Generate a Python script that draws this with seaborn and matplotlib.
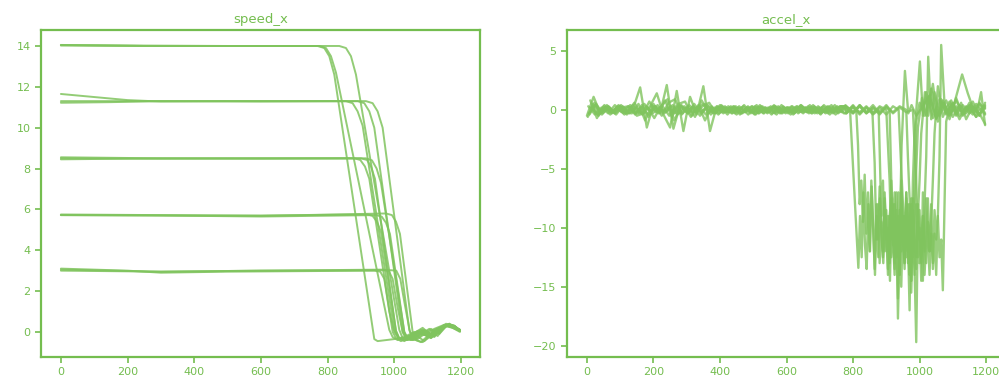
import matplotlib
matplotlib.use("Agg")
import matplotlib.pyplot as plt
import seaborn as sns
import pandas as pd

# speed_x runs (time index, speed)
s1_t = [0, 250, 500, 770, 790, 805, 820, 940, 950, 975, 1000, 1030, 1060, 1090, 1120, 1150, 1175, 1197]
s1_v = [14.05, 14.0, 14.0, 14.0, 13.9, 13.5, 12.6, -0.35, -0.45, -0.4, -0.35, -0.25, 0.0, -0.15, 0.15, 0.35, 0.25, 0.05]
s2_t = [0, 250, 500, 775, 795, 810, 825, 985, 995, 1010, 1030, 1060, 1090, 1120, 1150, 1175, 1197]
s2_v = [14.02, 14.0, 14.0, 14.0, 13.9, 13.5, 12.7, 0.1, -0.25, -0.4, -0.3, -0.1, -0.45, 0.1, 0.3, 0.2, 0.0]
s3_t = [0, 250, 500, 835, 855, 870, 885, 1015, 1025, 1040, 1060, 1085, 1110, 1130, 1155, 1180, 1197]
s3_v = [14.05, 14.02, 14.0, 14.0, 13.9, 13.5, 12.6, 0.1, -0.3, -0.4, -0.2, 0.1, -0.3, 0.0, 0.4, 0.3, 0.1]
s4_t = [0, 100, 200, 300, 500, 855, 875, 890, 905, 1000, 1012, 1030, 1055, 1080, 1110, 1140, 1160, 1197]
s4_v = [11.65, 11.5, 11.35, 11.28, 11.3, 11.3, 11.2, 10.8, 10.1, 0.1, -0.3, -0.45, -0.2, 0.1, -0.1, 0.2, 0.35, 0.1]
s5_t = [0, 150, 300, 500, 890, 910, 925, 940, 1025, 1035, 1050, 1070, 1095, 1120, 1150, 1175, 1197]
s5_v = [11.22, 11.25, 11.3, 11.3, 11.3, 11.2, 10.8, 10.0, 0.0, -0.35, -0.4, -0.15, 0.05, -0.2, 0.3, 0.25, 0.05]
s6_t = [0, 300, 600, 915, 935, 950, 965, 1045, 1055, 1070, 1090, 1110, 1135, 1160, 1180, 1197]
s6_v = [11.3, 11.3, 11.28, 11.3, 11.2, 10.8, 10.0, 0.1, -0.3, -0.35, -0.1, 0.15, -0.1, 0.35, 0.3, 0.05]
s7_t = [0, 300, 600, 880, 898, 912, 925, 995, 1005, 1020, 1045, 1070, 1100, 1130, 1160, 1197]
s7_v = [8.5, 8.48, 8.5, 8.5, 8.42, 8.1, 7.5, 0.0, -0.3, -0.45, -0.25, 0.05, -0.2, 0.1, 0.3, 0.05]
s8_t = [0, 300, 600, 900, 918, 930, 942, 1005, 1015, 1035, 1060, 1085, 1110, 1140, 1165, 1197]
s8_v = [8.55, 8.5, 8.5, 8.5, 8.42, 8.1, 7.5, 0.05, -0.35, -0.3, -0.05, 0.2, -0.15, 0.15, 0.4, 0.1]
s9_t = [0, 300, 600, 915, 933, 947, 960, 1030, 1040, 1055, 1080, 1105, 1130, 1155, 1180, 1197]
s9_v = [8.45, 8.5, 8.48, 8.5, 8.4, 8.0, 7.3, 0.0, -0.3, -0.4, -0.1, 0.15, -0.2, 0.35, 0.3, 0.05]
s10_t = [0, 300, 600, 920, 935, 948, 960, 1005, 1015, 1035, 1060, 1090, 1120, 1150, 1175, 1197]
s10_v = [5.75, 5.72, 5.7, 5.75, 5.68, 5.4, 4.9, 0.05, -0.3, -0.4, -0.15, 0.1, -0.25, 0.3, 0.3, 0.05]
s11_t = [0, 300, 600, 945, 962, 975, 987, 1030, 1040, 1060, 1085, 1110, 1135, 1160, 1197]
s11_v = [5.72, 5.7, 5.65, 5.72, 5.65, 5.35, 4.8, 0.0, -0.35, -0.3, 0.0, -0.2, 0.1, 0.35, 0.1]
s12_t = [0, 300, 600, 975, 993, 1005, 1017, 1055, 1065, 1080, 1100, 1125, 1150, 1175, 1197]
s12_v = [5.72, 5.7, 5.68, 5.8, 5.72, 5.4, 4.8, 0.0, -0.4, -0.5, -0.2, 0.05, 0.35, 0.3, 0.05]
s13_t = [0, 200, 300, 500, 940, 958, 970, 985, 1000, 1015, 1040, 1070, 1100, 1130, 1160, 1197]
s13_v = [3.1, 3.0, 2.9, 2.95, 3.0, 2.95, 2.6, 1.0, 0.0, -0.35, -0.25, 0.0, -0.2, 0.15, 0.35, 0.05]
s14_t = [0, 300, 600, 965, 983, 995, 1010, 1025, 1040, 1060, 1085, 1110, 1140, 1165, 1197]
s14_v = [3.05, 2.95, 3.0, 3.05, 3.0, 2.6, 1.2, 0.0, -0.35, -0.4, -0.1, -0.3, 0.1, 0.4, 0.1]
s15_t = [0, 300, 600, 990, 1006, 1018, 1032, 1047, 1065, 1085, 1110, 1135, 1160, 1180, 1197]
s15_v = [3.0, 2.95, 3.0, 3.02, 3.0, 2.6, 1.3, 0.0, -0.4, -0.5, -0.2, 0.0, 0.35, 0.3, 0.05]

# accel_x runs: noisy start sampled every 20 steps (each run shifted a little), then each run's own tail
base_t = list(range(0, 780, 20))
base_shift = [0, 10, 5, 15, 2.5, 12.5, 7.5, 17.5, 4]
a1_base = [-0.5, 1.1, -0.3, 0.4, -0.2, 0.3, -0.4, 0.2, 1.9, -1.5, 0.5, -0.3, 2.1, -1.6, 0.4, -0.2,
           0.3, -0.5, 0.2, -0.3, 0.4, -0.2, 0.3, -0.4, 0.2, -0.3, 0.4, -0.2, 0.3, -0.3, 0.2, -0.4,
           0.3, -0.2, 0.4, -0.3, 0.2, -0.3, 0.3]
a2_base = [0.8, -0.7, 0.3, -0.4, 0.2, -0.3, 0.4, -0.5, -0.3, 0.3, 1.4, -0.4, -1.5, 1.6, -1.8, 1.1,
           -0.4, 2.0, -1.8, 0.3, -0.3, 0.2, -0.4, 0.3, -0.2, 0.4, -0.3, 0.2, -0.4, 0.3, -0.2, 0.3,
           -0.3, 0.4, -0.2, 0.3, -0.4, 0.2, -0.2]
a3_base = [-0.3, 0.4, -0.4, 0.3, -0.3, 0.2, 0.3, -0.4, 0.4, -0.6, 0.3, -0.5, 0.6, 0.9, -0.4, 0.3,
           -0.6, 0.8, -0.3, 0.2, -0.2, 0.3, -0.3, 0.2, -0.4, 0.3, -0.2, 0.2, -0.3, 0.4, -0.3, 0.2,
           -0.2, 0.3, -0.3, 0.2, -0.3, 0.4, -0.2]
a4_base = [0.3, -0.5, 0.2, -0.3, 0.4, -0.2, -0.3, 0.5, -0.9, 0.4, -0.3, 0.8, -0.6, 0.5, 0.7, -0.5,
           0.4, -0.9, 0.3, -0.4, 0.3, -0.3, 0.2, -0.2, 0.3, -0.3, 0.2, -0.4, 0.3, -0.2, 0.3, -0.3,
           0.2, -0.3, 0.3, -0.2, 0.4, -0.3, 0.2]
a5_base = [-0.6, 0.6, -0.2, 0.3, -0.3, 0.4, -0.2, 0.6, -0.3, 0.2, -0.7, 0.3, 0.9, -0.9, 0.3, -0.3,
           0.5, -0.3, 0.4, -0.2, 0.2, -0.4, 0.3, -0.3, 0.2, -0.2, 0.3, -0.3, 0.4, -0.2, 0.2, -0.3,
           0.4, -0.2, 0.2, -0.4, 0.3, -0.2, 0.3]
a6_base = [0.2, -0.4, 0.4, -0.2, 0.3, -0.4, 0.2, -0.3, 0.5, -0.2, 0.4, -0.3, 0.3, -0.4, 0.3, -0.6,
           0.2, 0.5, -0.4, 0.3, -0.2, 0.3, -0.2, 0.4, -0.3, 0.2, -0.3, 0.3, -0.2, 0.2, -0.4, 0.3,
           -0.2, 0.2, -0.3, 0.4, -0.2, 0.3, -0.3]
a7_base = [-0.4, 0.5, -0.3, 0.2, -0.4, 0.3, -0.3, 0.2, -0.4, 0.7, -0.2, 0.3, -0.5, 0.3, -0.3, 0.4,
           -0.2, 0.3, 0.6, -0.3, 0.3, -0.2, 0.3, -0.3, 0.2, -0.4, 0.3, -0.2, 0.3, -0.3, 0.2, -0.2,
           0.3, -0.3, 0.2, -0.2, 0.3, -0.4, 0.2]
a8_base = [0.5, -0.3, 0.2, -0.2, 0.3, -0.3, 0.4, -0.3, 0.3, -0.3, 0.2, -0.2, 0.4, -0.3, 0.2, -0.2,
           0.3, -0.4, 0.2, -0.3, 0.2, -0.3, 0.3, -0.2, 0.3, -0.3, 0.2, -0.3, 0.2, -0.3, 0.3, -0.2,
           0.2, -0.3, 0.2, -0.3, 0.2, -0.2, 0.4]
a9_base = [0.3, -0.4, 0.2, -0.3, 0.4, -0.2, 0.3, -0.3, 0.2, -0.4, 0.3, -0.2, 0.2, -0.3, 0.4, -0.3,
           0.2, -0.2, 0.3, -0.3, 0.4, -0.2, 0.2, -0.3, 0.3, -0.4, 0.2, -0.2, 0.3, -0.3, 0.2, -0.3,
           0.4, -0.2, 0.3, -0.3, 0.2, -0.2, 0.3]

a1_t = [780, 791] + list(range(816, 947, 5)) + [956, 966, 976, 990, 1010, 1030, 1050, 1070, 1090, 1110, 1130, 1150, 1170, 1197]
a1_v = [0.2, 0.0,
        -13.4, -9.0, -12.5, -7.0, -11.5, -13.5, -8.0, -12.0, -6.5, -10.5, -14.0, -9.0, -12.5, -7.5,
        -11.0, -13.0, -8.5, -12.0, -10.0, -14.5, -8.0, -11.5, -9.5, -12.5, -7.0, -10.0, -3.0,
        3.3, -0.3, 0.4, -0.5, 0.3, 1.2, -0.8, 0.6, -0.4, 0.3, -0.2, 0.4, -0.6, 0.2]
a2_t = [780, 800, 810] + list(range(815, 986, 5)) + [1001, 1010, 1020, 1040, 1060, 1080, 1100, 1120, 1140, 1160, 1180, 1197]
a2_v = [-0.3, 0.3, -0.2,
        -3.0, -8.0, -6.0, -9.5, -5.5, -10.5, -7.0, -12.0, -6.0, -9.5, -13.5, -8.0, -11.0, -6.5,
        -10.0, -12.5, -7.5, -11.0, -9.0, -13.0, -6.0, -10.5, -8.0, -12.0, -9.5, -14.0, -7.0, -11.5,
        -9.0, -12.5, -8.0, -10.5, -13.0, -6.0, -2.0,
        4.1, -0.5, 1.5, -0.7, 0.9, -0.4, 0.5, -0.8, 0.3, -0.2, 0.6, -0.3]
a3_t = [780, 800, 820, 840, 858] + list(range(865, 1006, 5)) + [1016, 1026, 1040, 1055, 1070, 1090, 1105, 1128, 1145, 1160, 1180, 1197]
a3_v = [0.2, -0.3, 0.4, -0.2, 0.0,
        -4.5, -11.0, -8.0, -13.0, -9.5, -12.0, -7.0, -10.5, -14.0, -9.0, -12.5, -10.0, -13.5, -8.5,
        -17.7, -11.5, -15.0, -9.0, -12.0, -7.5, -13.0, -10.0, -14.5, -8.5, -11.0, -12.5, -9.0, -6.0, -2.0,
        1.5, -0.5, 2.2, -1.0, 0.8, -0.5, 0.6, 3.0, 1.4, 0.2, -0.3, -1.2]
a4_t = [780, 800, 820, 840, 860, 877] + list(range(885, 996, 5)) + [1007, 1020, 1035, 1050, 1065, 1080, 1100, 1120, 1140, 1160, 1180, 1197]
a4_v = [-0.2, 0.4, -0.3, 0.2, -0.4, 0.0,
        -9.0, -6.0, -12.0, -8.5, -13.5, -9.0, -7.5, -11.0, -14.0, -10.0, -16.0, -8.5, -12.0, -10.0,
        -13.5, -7.0, -11.0, -17.0, -8.0, -12.5, -9.5, -5.0, -1.5,
        1.0, -0.5, 1.8, -0.6, 0.9, -0.3, 0.6, -0.5, 0.2, -0.4, 0.5, 0.1]
a5_t = [780, 800, 820, 840, 860, 880, 900, 910] + list(range(915, 1021, 5)) + [1026, 1035, 1045, 1060, 1080, 1100, 1120, 1140, 1160, 1180, 1197]
a5_v = [0.3, -0.2, 0.4, -0.3, 0.2, -0.4, 0.3, 0.0,
        -6.0, -10.0, -7.0, -12.5, -9.0, -14.0, -8.0, -11.0, -13.0, -9.5, -12.0, -8.0, -15.5, -10.0,
        -13.5, -19.7, -9.5, -13.0, -11.0, -14.5, -8.0, -4.0,
        4.5, -0.8, 1.5, -0.5, 0.8, -0.6, 0.4, -0.3, 0.7, -0.5, 0.6]
a6_t = [780, 800, 820, 840, 860, 880, 900, 920, 937] + list(range(945, 1061, 5)) + [1065, 1075, 1090, 1110, 1130, 1150, 1170, 1185, 1197]
a6_v = [-0.3, 0.2, -0.2, 0.3, -0.3, 0.2, -0.4, 0.3, 0.0,
        -5.0, -8.0, -11.5, -7.0, -12.0, -9.0, -14.5, -7.5, -11.0, -13.5, -8.0, -10.0, -12.5, -9.0,
        -14.0, -11.0, -7.5, -12.0, -10.5, -13.0, -8.5, -11.0, -9.0, -4.0,
        5.5, 0.5, -0.8, 1.0, -0.5, 0.3, -0.6, 1.5, -1.3]
a7_t = [780, 800, 820, 840, 860, 880, 900, 920, 940, 960] + list(range(965, 1066, 5)) + [1070, 1080, 1095, 1110, 1125, 1140, 1160, 1180, 1197]
a7_v = [0.2, -0.3, 0.3, -0.2, 0.4, -0.3, 0.2, -0.2, 0.3, 0.0,
        -4.0, -7.5, -12.0, -9.0, -14.0, -8.0, -12.5, -10.0, -14.5, -7.0, -11.0, -13.0, -9.5, -12.0,
        -8.0, -13.5, -10.5, -14.0, -9.0, -12.5, -11.0,
        -15.3, -1.0, 0.8, -0.4, 0.6, -0.8, 0.3, -0.5, 0.4]
a8_t = [780, 800, 820, 840, 860, 880, 900] + list(range(905, 991, 5)) + [1000, 1015, 1030, 1050, 1070, 1090, 1110, 1130, 1150, 1170, 1197]
a8_v = [-0.2, 0.3, -0.4, 0.2, -0.3, 0.3, 0.0,
        -3.0, -6.0, -11.0, -8.0, -13.0, -7.0, -10.5, -12.0, -6.0, -9.5, -13.0, -8.5, -11.5, -14.0,
        -7.5, -10.0, -6.0, -1.0,
        0.6, -0.5, 1.2, -0.7, 0.5, -0.3, 0.8, -0.4, 0.6, -0.2, 0.3]
a9_t = list(range(780, 981, 20)) + list(range(990, 1046, 5)) + [1055, 1070, 1090, 1110, 1130, 1150, 1170, 1197]
a9_v = [0.3, -0.2, 0.3, -0.3, 0.2, -0.2, 0.4, -0.3, 0.2, -0.2, 0.0,
        -6.0, -11.0, -8.5, -13.0, -9.0, -12.0, -7.5, -11.0, -14.0, -9.5, -6.0, -2.0,
        2.0, -0.6, 0.7, -0.5, 0.4, -0.3, 0.5, -0.4]

speed_runs = [(s1_t, s1_v), (s2_t, s2_v), (s3_t, s3_v), (s4_t, s4_v), (s5_t, s5_v),
              (s6_t, s6_v), (s7_t, s7_v), (s8_t, s8_v), (s9_t, s9_v), (s10_t, s10_v),
              (s11_t, s11_v), (s12_t, s12_v), (s13_t, s13_v), (s14_t, s14_v), (s15_t, s15_v)]
accel_runs = [(a1_base, a1_t, a1_v), (a2_base, a2_t, a2_v), (a3_base, a3_t, a3_v),
              (a4_base, a4_t, a4_v), (a5_base, a5_t, a5_v), (a6_base, a6_t, a6_v),
              (a7_base, a7_t, a7_v), (a8_base, a8_t, a8_v), (a9_base, a9_t, a9_v)]

rows = []
for i, (t, v) in enumerate(speed_runs):
    rows += [{"run": i, "t": a, "v": b} for a, b in zip(t, v)]
df_speed = pd.DataFrame(rows)

rows = []
for i, (base, t, v) in enumerate(accel_runs):
    ts = [x + base_shift[i] for x in base_t] + t
    rows += [{"run": i, "t": a, "v": b} for a, b in zip(ts, base + v)]
df_accel = pd.DataFrame(rows)

green = "#74bd4f"
line_green = "#80c45e"

sns.set_style("white")
plt.rcParams["font.family"] = ["DejaVu Sans"]

fig = plt.figure(figsize=(9.99, 3.81), dpi=100)
ax1 = fig.add_axes([0.041, 0.063, 0.4394, 0.858])
ax2 = fig.add_axes([0.5676, 0.063, 0.4384, 0.858])

sns.lineplot(data=df_speed, x="t", y="v", units="run", estimator=None, sort=False,
             color=line_green, alpha=0.85, lw=1.4, ax=ax1)
sns.lineplot(data=df_accel, x="t", y="v", units="run", estimator=None, sort=False,
             color=line_green, alpha=0.8, lw=1.7, ax=ax2)

for ax, title in [(ax1, "speed_x"), (ax2, "accel_x")]:
    ax.set_title(title, color=green, fontsize=9.5, pad=5)
    ax.set_xlabel("")
    ax.set_ylabel("")
    ax.set_xticks([0, 200, 400, 600, 800, 1000, 1200])
    ax.tick_params(colors=green, labelsize=8, length=4, width=1.2, bottom=True, left=True)
    for sp in ax.spines.values():
        sp.set_color(green)
        sp.set_linewidth(1.6)
    ax.grid(False)

fig.savefig("out.png", dpi=100)
